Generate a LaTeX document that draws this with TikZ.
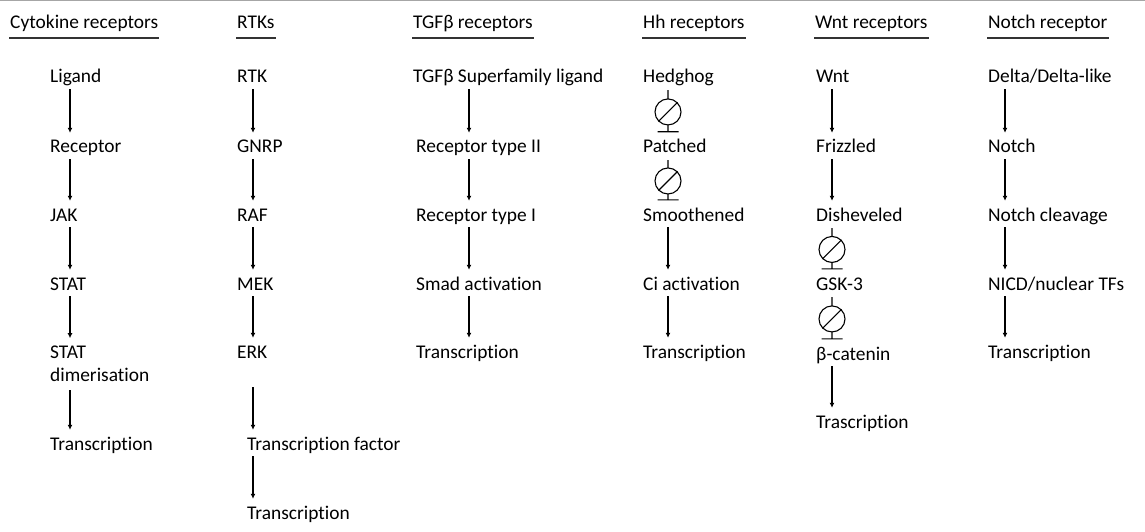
\documentclass[tikz,border=0pt]{standalone}
\usepackage{fontspec}
\setmainfont{Carlito}[Ligatures={NoCommon}]
\usepackage{tikz}
\usetikzlibrary{arrows.meta,calc}

\tikzset{
  lbl/.style={anchor=base west, inner sep=0pt, text height=13pt, text depth=4pt,
    font=\fontsize{19.4}{23}\selectfont},
  head/.style={lbl, inner xsep=1pt, text depth=9pt},
  hline/.style={line width=2pt, black!80},
  act/.style={-{Latex[length=5pt,width=5pt]}, line width=1.1pt, shorten <=2pt, shorten >=7pt},
}

% blocked step: from, to, axis
\newcommand{\inhib}[3]{%
  \coordinate (m) at ($(#1.south -| #3)!0.47!(#2.north -| #3)$);
  \draw[line width=1.1pt] ($(#1.south -| #3)+(0,3)$) -- ($(m)+(0,-13)$)
    ($(m)+(0,13)$) -- ($(#2.north -| #3)+(0,-8)$)
    ($(#2.north -| #3)+(-10.5,-8)$) -- ++(21,0)
    ($(m)+(-9.5,9.5)$) -- ($(m)+(9.5,-9.5)$);
  \draw[line width=1.1pt] (m) circle[radius=13pt];
}

\begin{document}
\begin{tikzpicture}[x=1pt,y=-1pt]
  \useasboundingbox (0,0) rectangle (1145,532);
  \draw[black!35, line width=1.5pt] (0,0.75) -- (1145,0.75);

  % Headers
  \node[head] (hcyt) at (9,29) {Cytokine receptors};
  \node[head] (hrtk) at (236,29) {RTKs};
  \node[head] (htgf) at (412,29) {TGFβ receptors};
  \node[head] (hhh) at (642,29) {Hh receptors};
  \node[head] (hwnt) at (814,29) {Wnt receptors};
  \node[head] (hnot) at (987,29) {Notch receptor};
  \foreach \h in {hcyt,hrtk,htgf,hhh,hwnt,hnot}
    \draw[hline] (\h.south west) -- (\h.south east);

  % Arrow axes
  \coordinate (xc) at (70,0);
  \coordinate (xr) at (253,0);
  \coordinate (xt) at (469,0);
  \coordinate (xh) at (668,0);
  \coordinate (xw) at (832,0);
  \coordinate (xn) at (1005,0);

  % Cytokine receptors
  \node[lbl] (lig) at (50,83) {Ligand};
  \node[lbl] (rec) at (50,153) {Receptor};
  \node[lbl] (jak) at (50,221) {JAK};
  \node[lbl] (stat) at (50,290) {STAT};
  \node[lbl, align=left, text height=, text depth=] (dim) at (50,381) {STAT\\dimerisation};
  \node[lbl] (trc1) at (50,450) {Transcription};

  % RTKs
  \node[lbl] (rtk) at (237,83) {RTK};
  \node[lbl] (gnrp) at (237,153) {GNRP};
  \node[lbl] (raf) at (237,221) {RAF};
  \node[lbl] (mek) at (237,290) {MEK};
  \node[lbl] (erk) at (237,358) {ERK};
  \node[lbl] (tf) at (247,450) {Transcription factor};
  \node[lbl] (trc2) at (247,519) {Transcription};

  % TGFb receptors
  \node[lbl] (tgfl) at (413,83) {TGFβ Superfamily ligand};
  \node[lbl] (r2) at (416,153) {Receptor type II};
  \node[lbl] (r1) at (416,221) {Receptor type I};
  \node[lbl] (smad) at (416,290) {Smad activation};
  \node[lbl] (trc3) at (416,358) {Transcription};

  % Hh receptors
  \node[lbl] (hh) at (643,83) {Hedghog};
  \node[lbl] (ptc) at (643,153) {Patched};
  \node[lbl] (smo) at (643,221) {Smoothened};
  \node[lbl] (ci) at (643,290) {Ci activation};
  \node[lbl] (trc4) at (643,358) {Transcription};

  % Wnt receptors
  \node[lbl] (wnt) at (816,83) {Wnt};
  \node[lbl] (fzd) at (816,153) {Frizzled};
  \node[lbl] (dsh) at (816,221) {Disheveled};
  \node[lbl] (gsk) at (816,290) {GSK-3};
  \node[lbl] (bcat) at (816,360) {β-catenin};
  \node[lbl] (trc5) at (816,428) {Trascription};

  % Notch receptor
  \node[lbl] (dll) at (988,83) {Delta/Delta-like};
  \node[lbl] (notch) at (988,153) {Notch};
  \node[lbl] (ncl) at (988,221) {Notch cleavage};
  \node[lbl] (nicd) at (988,290) {NICD/nuclear TFs};
  \node[lbl] (trc6) at (988,358) {Transcription};

  \draw[act] (lig.south -| xc) -- (rec.north -| xc);
  \draw[act] (rec.south -| xc) -- (jak.north -| xc);
  \draw[act] (jak.south -| xc) -- (stat.north -| xc);
  \draw[act] (stat.south -| xc) -- (dim.north -| xc);
  \draw[act, shorten <=9pt] (dim.south -| xc) -- (trc1.north -| xc);

  \draw[act] (rtk.south -| xr) -- (gnrp.north -| xr);
  \draw[act] (gnrp.south -| xr) -- (raf.north -| xr);
  \draw[act] (raf.south -| xr) -- (mek.north -| xr);
  \draw[act] (mek.south -| xr) -- (erk.north -| xr);
  \draw[act, shorten <=25pt] (erk.south -| xr) -- (tf.north -| xr);
  \draw[act] (tf.south -| xr) -- (trc2.north -| xr);

  \draw[act] (tgfl.south -| xt) -- (r2.north -| xt);
  \draw[act] (r2.south -| xt) -- (r1.north -| xt);
  \draw[act] (r1.south -| xt) -- (smad.north -| xt);
  \draw[act] (smad.south -| xt) -- (trc3.north -| xt);

  \inhib{hh}{ptc}{xh}
  \inhib{ptc}{smo}{xh}
  \draw[act] (smo.south -| xh) -- (ci.north -| xh);
  \draw[act] (ci.south -| xh) -- (trc4.north -| xh);

  \draw[act] (wnt.south -| xw) -- (fzd.north -| xw);
  \draw[act] (fzd.south -| xw) -- (dsh.north -| xw);
  \inhib{dsh}{gsk}{xw}
  \inhib{gsk}{bcat}{xw}
  \draw[act] (bcat.south -| xw) -- (trc5.north -| xw);

  \draw[act] (dll.south -| xn) -- (notch.north -| xn);
  \draw[act] (notch.south -| xn) -- (ncl.north -| xn);
  \draw[act] (ncl.south -| xn) -- (nicd.north -| xn);
  \draw[act] (nicd.south -| xn) -- (trc6.north -| xn);
\end{tikzpicture}
\end{document}
